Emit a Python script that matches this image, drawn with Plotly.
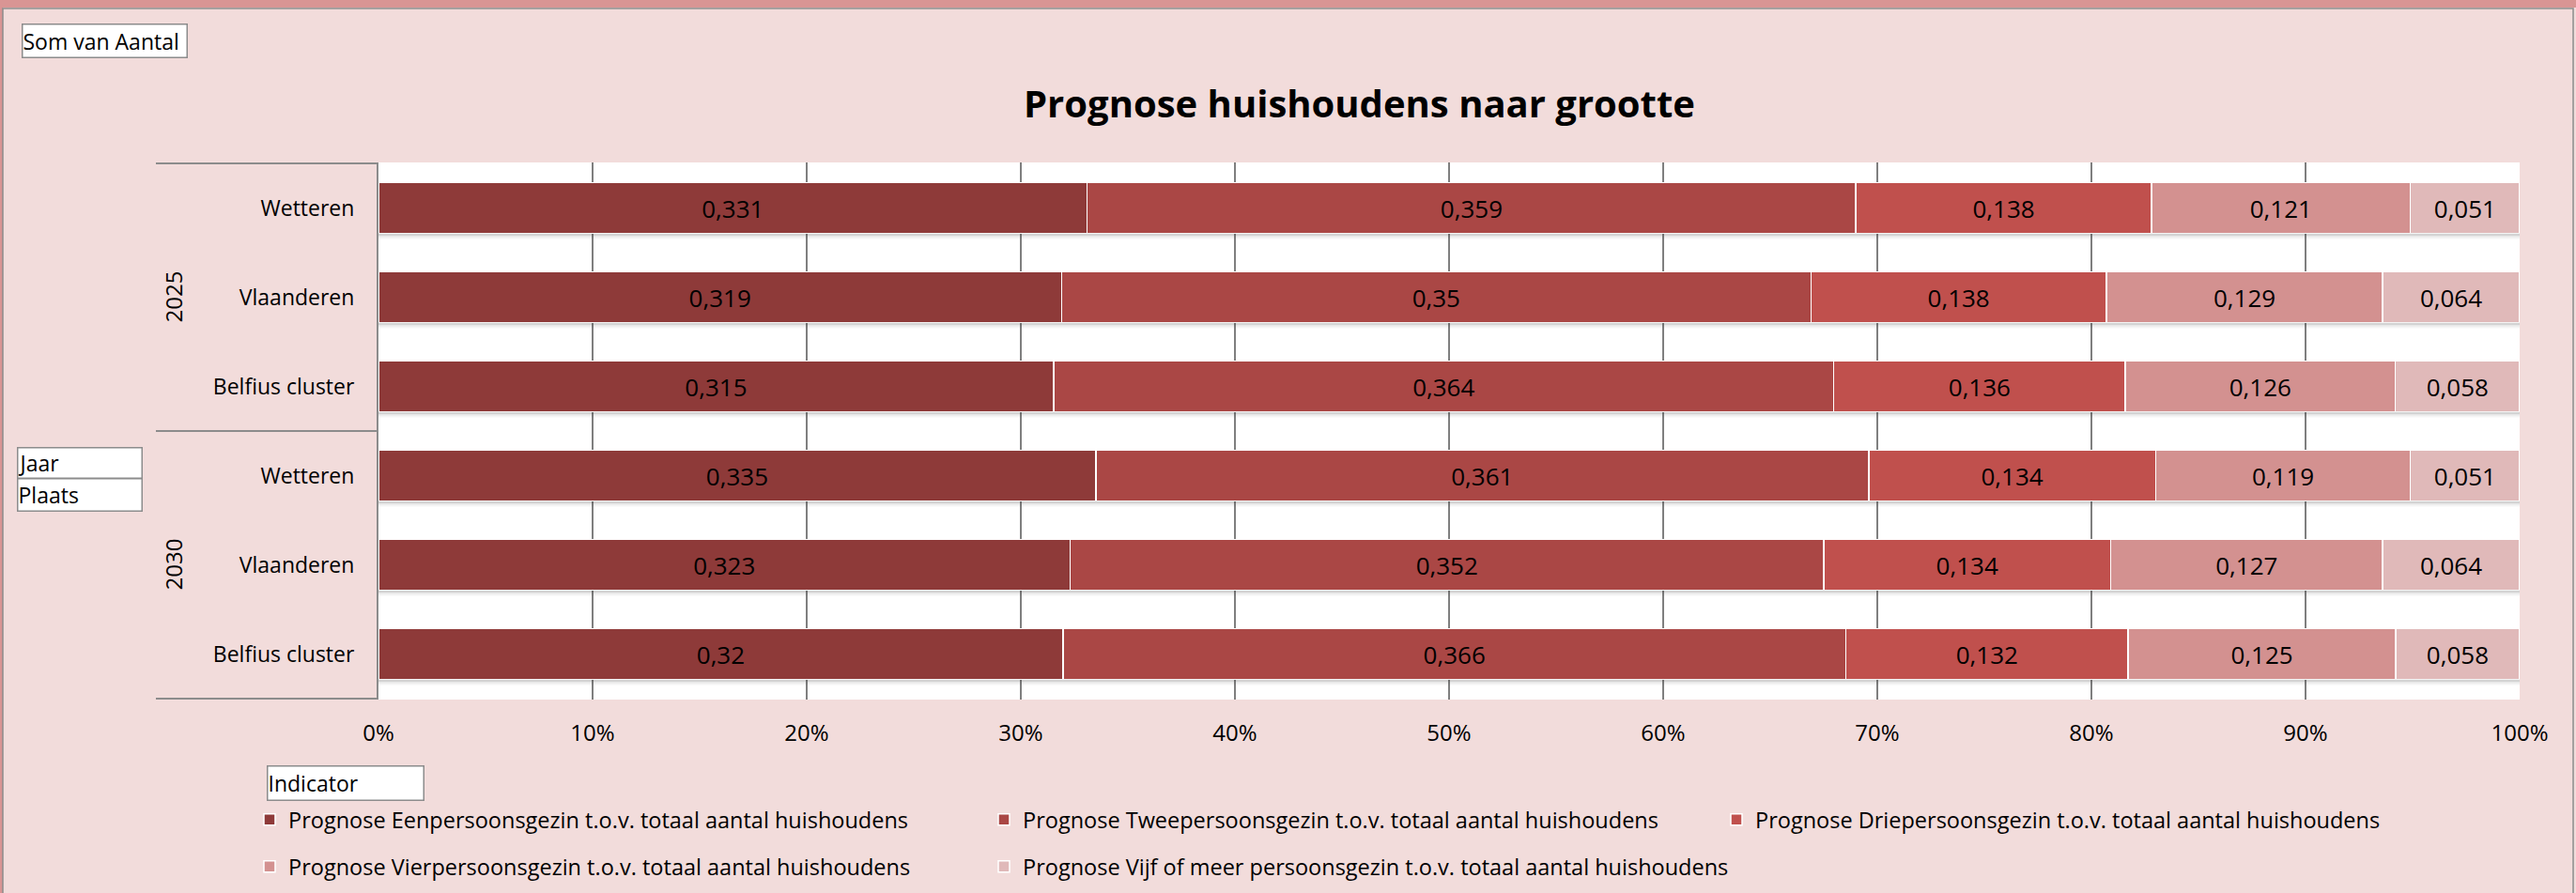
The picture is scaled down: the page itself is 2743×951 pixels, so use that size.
import plotly.graph_objects as go

# ---- data -----------------------------------------------------------------
years = ["2025", "2025", "2025", "2030", "2030", "2030"]
places = ["Wetteren", "Vlaanderen", "Belfius cluster",
          "Wetteren", "Vlaanderen", "Belfius cluster"]

series_names = [
    "Prognose Eenpersoonsgezin t.o.v. totaal aantal huishoudens",
    "Prognose Tweepersoonsgezin t.o.v. totaal aantal huishoudens",
    "Prognose Driepersoonsgezin t.o.v. totaal aantal huishoudens",
    "Prognose Vierpersoonsgezin t.o.v. totaal aantal huishoudens",
    "Prognose Vijf of meer persoonsgezin t.o.v. totaal aantal huishoudens",
]
een = [0.331, 0.319, 0.315, 0.335, 0.323, 0.32]
twee = [0.359, 0.35, 0.364, 0.361, 0.352, 0.366]
drie = [0.138, 0.138, 0.136, 0.134, 0.134, 0.132]
vier = [0.121, 0.129, 0.126, 0.119, 0.127, 0.125]
vijf = [0.051, 0.064, 0.058, 0.051, 0.064, 0.058]

tick_vals = [0, 0.1, 0.2, 0.3, 0.4, 0.5, 0.6, 0.7, 0.8, 0.9, 1.0]
tick_text = ["0%", "10%", "20%", "30%", "40%", "50%", "60%", "70%", "80%", "90%", "100%"]

colors = ["#8E3A39", "#AA4745", "#C0504D", "#D39190", "#E0B9B9"]

# ---- layout geometry (pixels) ---------------------------------------------
W, H = 2743, 951
PL, PR, PT, PB = 403, 2683, 173, 745
FONT = "Open Sans"
GRAY = "#8C8C8C"
BAR_GAP = 0.43

# legend entry positions (left edge x, centre y) in pixels
legend_pos = [(267, 873), (1049, 873), (1829, 873), (267, 923), (1049, 923)]


def px_x(p):
    return (p - PL) / (PR - PL)


def px_y(p):
    return (PB - p) / (PB - PT)


def fmt(v):
    return f"{v:g}".replace(".", ",")


fig = go.Figure()
rows = list(range(len(places)))

# soft shadow under each bar
for r in rows:
    for k, alpha in enumerate([0.22, 0.12, 0.05]):
        yv = r + (1 - BAR_GAP) / 2 + 0.012 + k * 0.02
        fig.add_shape(type="line", xref="x", yref="y", x0=0, x1=1, y0=yv, y1=yv,
                      line=dict(color=f"rgba(60,60,60,{alpha})", width=2))

legend_layout = {}
for i, (name, vals) in enumerate(zip(series_names, [een, twee, drie, vier, vijf])):
    lg = "legend" if i == 0 else f"legend{i + 1}"
    fig.add_trace(go.Bar(
        y=rows, x=vals, name=name, orientation="h",
        marker=dict(color=colors[i], line=dict(color="white", width=1.5)),
        text=[fmt(v) for v in vals], textposition="inside",
        insidetextanchor="middle", constraintext="none",
        textfont=dict(family=FONT, size=26, color="black"),
        legend=lg, hoverinfo="skip",
    ))
    lx, ly = legend_pos[i]
    legend_layout[lg] = dict(
        x=px_x(lx), y=px_y(ly), xanchor="left", yanchor="middle",
        orientation="h", bgcolor="rgba(0,0,0,0)",
        font=dict(family=FONT, size=23.5, color="black"),
    )

# group lines of the two-level category axis
for yv in [-0.5, 2.5, 5.5]:
    fig.add_shape(type="line", xref="paper", yref="y",
                  x0=px_x(166), x1=0, y0=yv, y1=yv,
                  line=dict(color=GRAY, width=2))

# year labels
for yr, yc in [("2025", 1), ("2030", 4)]:
    fig.add_annotation(text=yr, textangle=-90, xref="paper", yref="y",
                       x=px_x(184), y=yc, xanchor="center", yanchor="middle",
                       showarrow=False,
                       font=dict(family=FONT, size=24, color="black"))

# chart frame
fig.add_shape(type="rect", xref="paper", yref="paper",
              x0=px_x(0), x1=px_x(W), y0=px_y(0), y1=px_y(8),
              fillcolor="#D99594", line_width=0, layer="below")
fig.add_shape(type="rect", xref="paper", yref="paper",
              x0=px_x(0), x1=px_x(3), y0=px_y(0), y1=px_y(H),
              fillcolor="#D99594", line_width=0, layer="below")
fig.add_shape(type="rect", xref="paper", yref="paper",
              x0=px_x(3), x1=px_x(2740), y0=px_y(9), y1=px_y(H + 5),
              line=dict(color=GRAY, width=1.5))

# title
fig.add_annotation(text="<b>Prognose huishoudens naar grootte</b>",
                   xref="paper", yref="paper", x=px_x(1447), y=px_y(110),
                   xanchor="center", yanchor="middle", showarrow=False,
                   font=dict(family=FONT, size=40, color="black"))


# field buttons
def field_box(label, x0, y0, x1, y1):
    fig.add_annotation(text=label, xref="paper", yref="paper",
                       x=px_x(x0), y=px_y(y0), xanchor="left", yanchor="top",
                       width=x1 - x0 - 2, height=y1 - y0 - 2, align="left",
                       valign="middle", showarrow=False, borderpad=0,
                       bgcolor="white", bordercolor=GRAY, borderwidth=1.5,
                       font=dict(family=FONT, size=23, color="black"))


field_box("Som van Aantal", 23, 25, 199, 61)
field_box("Jaar", 18, 476, 151, 509)
field_box("Plaats", 18, 509, 151, 544)
field_box("Indicator", 284, 815, 451, 852)

fig.update_layout(
    width=W, height=H,
    margin=dict(l=PL, r=W - PR, t=PT, b=H - PB, autoexpand=False),
    paper_bgcolor="#F2DCDB", plot_bgcolor="white",
    barmode="stack", barnorm="fraction", bargap=BAR_GAP,
    showlegend=True, hovermode=False,
    xaxis=dict(range=[0, 1], tickvals=tick_vals, ticktext=tick_text,
               showgrid=True, gridcolor="#7F7F7F", gridwidth=1.5,
               zeroline=False, showline=False, ticks="",
               ticklabelstandoff=19,
               tickfont=dict(family=FONT, size=24, color="black")),
    yaxis=dict(tickvals=rows, ticktext=places, autorange="reversed",
               showgrid=False, zeroline=False, showline=True,
               linecolor=GRAY, linewidth=2, ticks="",
               ticklabelstandoff=19,
               tickfont=dict(family=FONT, size=23, color="black")),
    font=dict(family=FONT),
    **legend_layout,
)

fig.write_html("out.html", config={"displayModeBar": False},
               post_script="document.body.style.margin='0';")
